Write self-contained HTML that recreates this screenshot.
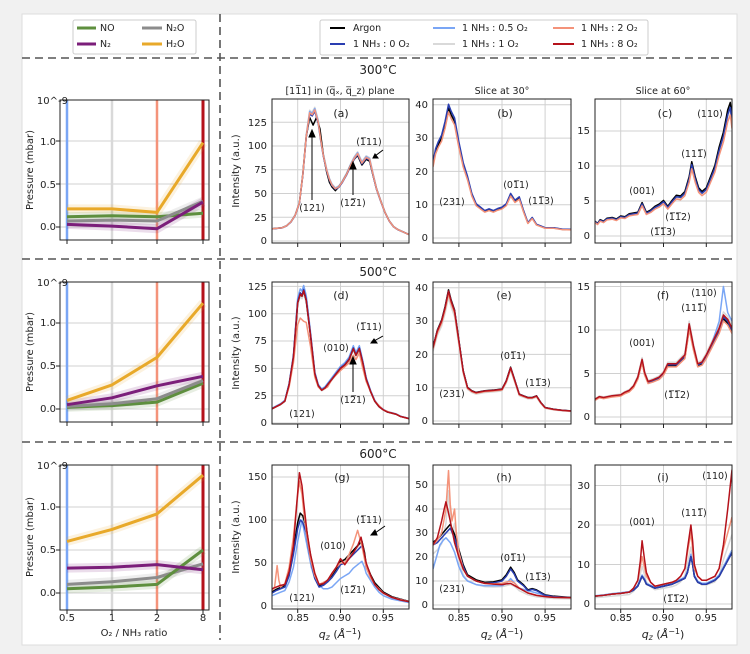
<!DOCTYPE html>
<html><head><meta charset="utf-8"><style>
html,body{margin:0;padding:0;background:#f1f1f1;}
svg{display:block;font-family:"DejaVu Sans","Liberation Sans",sans-serif;}
.t{font-size:10px;fill:#222;}
.s{font-size:9.5px;fill:#222;}
.gr line{stroke:#d0d0d0;stroke-width:1;}
.tk line{stroke:#222;stroke-width:1;}
polyline[id]{fill:none;stroke-width:1.5;stroke-linejoin:round;vector-effect:non-scaling-stroke;}
.c use{fill:none;}
.lp polyline{fill:none;stroke-linejoin:round;}
</style></head><body>
<svg width="750" height="654" viewBox="0 0 750 654" xmlns="http://www.w3.org/2000/svg">
<defs>
<polyline id="A" fill="none" stroke-width="1.5" vector-effect="non-scaling-stroke" points=".80,12 .81,13 .82,14 .825,16 .83,20 .835,27 .84,40 .844,70 .848,110 .852,135 .855,133 .858,138 .862,125 .865,106 .868,90 .872,74 .875,65 .878,59 .882,55 .886,57 .89,62 .895,70 .9,80 .904,87 .908,92 .913,82 .918,88 .922,86 .926,70 .93,55 .935,42 .94,30 .945,21 .95,15 .955,12 .96,10 .965,8 .97,6 .975,5 .98,3"/>
<polyline id="Ak" fill="none" stroke-width="1.5" vector-effect="non-scaling-stroke" points=".80,12 .81,13 .82,14 .825,16 .83,20 .835,27 .84,40 .844,70 .848,110 .852,130 .856,122 .86,130 .864,118 .868,90 .872,72 .875,62 .878,57 .882,53 .886,57 .89,62 .895,70 .9,80 .904,86 .908,90 .913,80 .918,86 .922,84 .926,69 .93,55 .935,42 .94,30 .945,21 .95,15 .955,12 .96,10 .965,8 .97,6 .975,5 .98,3"/>
<polyline id="B" fill="none" stroke-width="1.5" vector-effect="non-scaling-stroke" points=".82,22 .823,26 .826,28 .83,30 .834,34 .838,39 .841,37 .845,35 .85,28 .855,22 .86,18 .865,13 .87,10 .875,9 .88,8 .885,8.5 .89,8 .895,8.6 .9,9 .905,10 .91,13 .915,11 .92,12 .925,8 .93,4.5 .935,6 .94,4 .945,3.5 .95,3 .96,3 .97,2.6 .98,2.5"/>
<polyline id="Cc" fill="none" stroke-width="1.5" vector-effect="non-scaling-stroke" points=".82,2 .823,1.7 .826,2.2 .83,2 .834,2.4 .84,2.5 .845,2.3 .85,2.7 .855,2.6 .86,3 .865,3.1 .87,3.2 .875,4.5 .88,3.2 .885,3.5 .89,4 .895,4.3 .9,4.8 .905,4 .91,4.8 .915,5.5 .92,5.4 .925,6 .93,8 .933,10 .937,8 .941,6.5 .945,6 .95,6.5 .955,8 .96,9.5 .965,12 .97,14 .975,17 .978,18 .98,16"/>
<polyline id="D" fill="none" stroke-width="1.5" vector-effect="non-scaling-stroke" points=".82,13 .825,15 .83,17 .835,20 .84,35 .845,60 .85,110 .853,118 .855,116 .857,121 .86,112 .865,80 .87,45 .874,34 .878,30 .882,32 .885,35 .89,40 .895,45 .9,50 .905,53 .91,58 .915,68 .918,62 .922,68 .926,55 .93,40 .935,29 .94,20 .945,15 .95,12 .955,10 .96,9 .965,8 .97,6 .975,5 .98,4"/>
<polyline id="Ds" fill="none" stroke-width="1.5" vector-effect="non-scaling-stroke" points=".82,13 .825,15 .83,17 .835,20 .84,33 .845,55 .85,90 .853,96 .857,93 .86,92 .865,70 .87,42 .874,33 .878,30 .885,33 .89,40 .9,48 .91,55 .915,62 .918,58 .922,64 .926,50 .93,38 .94,20 .95,12 .96,9 .965,8 .97,6 .98,4"/>
<polyline id="E" fill="none" stroke-width="1.5" vector-effect="non-scaling-stroke" points=".82,22 .825,27 .83,30 .834,34 .838,39 .841,36 .845,33 .85,24 .855,15 .86,10 .865,9 .87,8.5 .88,9 .89,9.2 .9,9.5 .905,12 .91,16 .915,12 .92,8 .925,7.5 .93,7 .935,7 .94,7.5 .945,5.5 .95,4 .96,3.5 .97,3.2 .98,3"/>
<polyline id="F" fill="none" stroke-width="1.5" vector-effect="non-scaling-stroke" points=".82,2 .825,2.3 .83,2.2 .84,2.4 .85,2.5 .855,2.8 .86,3 .865,3.5 .87,4.5 .875,6.5 .878,5 .882,4 .888,4.2 .895,4.5 .9,5 .905,6 .91,6 .915,6 .92,6.5 .925,7 .928,9 .93,10.5 .935,8 .94,6 .945,6.2 .95,7 .955,8 .96,9 .965,10 .97,11.5 .975,11 .98,10"/>
<polyline id="Flb" fill="none" stroke-width="1.5" vector-effect="non-scaling-stroke" points=".82,2 .825,2.3 .83,2.2 .84,2.4 .85,2.5 .855,2.8 .86,3 .865,3.5 .87,4.5 .875,6.5 .878,5 .882,4 .888,4.2 .895,4.5 .9,5 .905,6 .91,6 .915,6 .92,6.5 .925,7 .928,9 .93,10.5 .935,8 .94,6 .945,6.2 .95,7 .955,8 .96,9.5 .965,11 .97,15 .975,12 .98,11"/>
<polyline id="Gr" fill="none" stroke-width="1.5" vector-effect="non-scaling-stroke" points=".82,20 .825,22 .83,24 .835,25 .84,40 .845,70 .849,120 .852,155 .855,140 .857,120 .861,85 .865,60 .87,38 .875,25 .88,26 .885,30 .89,38 .895,45 .9,55 .905,48 .91,55 .915,62 .92,70 .924,80 .927,65 .93,50 .935,36 .94,25 .945,19 .95,15 .96,10 .97,7 .98,5"/>
<polyline id="Gs" fill="none" stroke-width="1.5" vector-effect="non-scaling-stroke" points=".82,18 .823,22 .826,47 .828,30 .83,22 .835,26 .84,45 .845,80 .849,120 .852,145 .855,130 .857,110 .861,80 .865,55 .87,35 .875,25 .885,30 .895,45 .9,50 .905,50 .91,60 .915,72 .92,88 .925,70 .93,45 .935,33 .94,25 .95,15 .96,10 .98,5"/>
<polyline id="Gb" fill="none" stroke-width="1.5" vector-effect="non-scaling-stroke" points=".82,15 .825,18 .83,20 .835,22 .84,35 .845,60 .85,90 .853,100 .856,97 .86,85 .863,65 .867,45 .87,32 .875,22 .88,24 .885,28 .89,33 .895,40 .9,48 .905,50 .91,55 .915,60 .92,65 .925,70 .928,58 .93,45 .935,34 .94,25 .95,15 .96,10 .98,5"/>
<polyline id="Glb" fill="none" stroke-width="1.5" vector-effect="non-scaling-stroke" points=".82,12 .825,14 .83,16 .835,18 .84,28 .845,45 .85,75 .855,100 .858,85 .862,65 .866,45 .87,32 .875,24 .88,20 .885,20 .89,22 .895,27 .9,32 .905,35 .91,38 .915,44 .92,48 .925,52 .928,45 .93,38 .935,30 .94,22 .945,16 .95,12 .96,8 .98,4"/>
<polyline id="Hr" fill="none" stroke-width="1.5" vector-effect="non-scaling-stroke" points=".82,25 .825,28 .83,35 .833,40 .835,43 .837,40 .84,35 .845,26 .85,20 .855,15 .86,12 .87,10 .88,9 .89,8.7 .9,8.5 .905,8.8 .91,9 .915,8 .92,7 .93,5 .94,4 .95,3.5 .96,3.2 .98,3"/>
<polyline id="Hs" fill="none" stroke-width="1.5" vector-effect="non-scaling-stroke" points=".82,25 .825,27 .83,30 .835,40 .838,56 .84,42 .842,35 .845,40 .847,30 .85,22 .855,15 .86,12 .87,10 .88,9 .89,8.8 .9,9 .905,9.5 .91,10 .915,9 .92,7 .93,5 .94,4 .95,3.5 .96,3.2 .98,3"/>
<polyline id="Hb" fill="none" stroke-width="1.5" vector-effect="non-scaling-stroke" points=".82,25 .825,26 .83,28 .835,30 .84,32 .845,28 .85,22 .855,16 .86,12 .87,10 .88,9 .89,9.2 .9,10 .905,12 .91,15 .914,13 .918,10 .925,8 .93,6 .935,6.5 .94,6 .945,5 .95,4 .96,3.5 .98,3"/>
<polyline id="Hlb" fill="none" stroke-width="1.5" vector-effect="non-scaling-stroke" points=".82,15 .824,20 .828,25 .832,27 .835,28 .84,26 .845,22 .85,16 .855,12 .86,10 .87,8.5 .88,8 .89,8 .9,8 .905,9 .91,11 .915,9 .92,7 .93,6 .94,5 .95,4 .96,3.5 .98,3"/>
<polyline id="Ir" fill="none" stroke-width="1.5" vector-effect="non-scaling-stroke" points=".82,2 .83,2.2 .84,2.5 .85,2.7 .86,3 .865,4 .87,6 .873,11 .875,16 .878,11 .88,8 .885,5.5 .89,4.5 .9,5 .91,5.5 .915,6 .92,7 .925,9 .928,14 .932,20 .934,16 .936,10 .94,7 .945,6 .95,6 .955,6.5 .96,7 .965,9 .97,15 .975,24 .98,34"/>
<polyline id="Ib" fill="none" stroke-width="1.5" vector-effect="non-scaling-stroke" points=".82,2 .83,2.2 .84,2.5 .85,2.7 .86,3 .865,3.5 .87,4.5 .875,7 .878,6 .88,5 .885,4.5 .89,4 .9,4.5 .91,5 .915,5.5 .92,6 .925,6.5 .928,8 .932,12 .934,10 .936,7 .94,5.5 .945,5 .95,5 .955,5.5 .96,6 .965,7 .97,9 .975,11 .98,13"/>
<polyline id="Is" fill="none" stroke-width="1.5" vector-effect="non-scaling-stroke" points=".82,2 .83,2.2 .84,2.5 .85,2.7 .86,3 .865,4 .87,6 .875,12 .878,9 .88,7 .885,5.5 .89,4.5 .9,5 .91,5.5 .915,6 .92,7 .925,9 .928,13 .932,18 .934,14 .936,9 .94,7 .945,6 .95,6 .955,6.5 .96,7 .965,9 .97,14 .975,18 .98,22"/>
<clipPath id="ca"><rect x="272" y="99" width="137" height="144"/></clipPath>
<clipPath id="cb"><rect x="433" y="99" width="138" height="144"/></clipPath>
<clipPath id="cc"><rect x="595" y="99" width="137" height="144"/></clipPath>
<clipPath id="cd"><rect x="272" y="282" width="137" height="142"/></clipPath>
<clipPath id="ce"><rect x="433" y="282" width="138" height="142"/></clipPath>
<clipPath id="cf"><rect x="595" y="282" width="137" height="142"/></clipPath>
<clipPath id="cg"><rect x="272" y="465" width="137" height="144"/></clipPath>
<clipPath id="ch"><rect x="433" y="465" width="138" height="144"/></clipPath>
<clipPath id="ci"><rect x="595" y="465" width="137" height="144"/></clipPath>
</defs>
<rect x="22" y="14" width="715" height="631" fill="#fff" stroke="#ddd"/>

<g class="gr">
<line x1="60" x2="209" y1="227" y2="227"/><line x1="60" x2="209" y1="184" y2="184"/><line x1="60" x2="209" y1="141" y2="141"/>
<line x1="60" x2="209" y1="409" y2="409"/><line x1="60" x2="209" y1="366" y2="366"/><line x1="60" x2="209" y1="323" y2="323"/>
<line x1="60" x2="209" y1="593" y2="593"/><line x1="60" x2="209" y1="550" y2="550"/><line x1="60" x2="209" y1="507" y2="507"/>
</g>
<g stroke-width="2.5">
<line x1="112" x2="112" y1="100" y2="240" stroke="#d9d9d9"/><line x1="67" x2="67" y1="100" y2="240" stroke="#7aa6f5"/><line x1="157" x2="157" y1="100" y2="240" stroke="#f4937a"/><line x1="203" x2="203" y1="100" y2="240" stroke="#b5121b" stroke-width="3"/>
<line x1="112" x2="112" y1="282" y2="422" stroke="#d9d9d9"/><line x1="67" x2="67" y1="282" y2="422" stroke="#7aa6f5"/><line x1="157" x2="157" y1="282" y2="422" stroke="#f4937a"/><line x1="203" x2="203" y1="282" y2="422" stroke="#b5121b" stroke-width="3"/>
<line x1="112" x2="112" y1="465" y2="610" stroke="#d9d9d9"/><line x1="67" x2="67" y1="465" y2="610" stroke="#7aa6f5"/><line x1="157" x2="157" y1="465" y2="610" stroke="#f4937a"/><line x1="203" x2="203" y1="465" y2="610" stroke="#b5121b" stroke-width="3"/>
</g>
<g class="lp">
<g stroke-width="9" stroke-opacity="0.15">
<polyline stroke="#5e8f3e" points="67,216.7 112,215.8 157,216.7 203,213.2"/><polyline stroke="#8c8c8c" points="67,221 112,220.1 157,221 203,201.2"/><polyline stroke="#7b1e7a" points="67,224.4 112,226.1 157,228.7 203,202.1"/><polyline stroke="#e8a92a" points="67,208.9 112,208.9 157,212.4 203,142.7"/>
<polyline stroke="#5e8f3e" points="67,407.3 112,405.6 157,402.1 203,383.2"/><polyline stroke="#8c8c8c" points="67,406.4 112,403.8 157,398.7 203,380.6"/><polyline stroke="#7b1e7a" points="67,404.7 112,397.8 157,385.8 203,376.3"/><polyline stroke="#e8a92a" points="67,400.4 112,384.9 157,357.4 203,303.2"/>
<polyline stroke="#8c8c8c" points="67,584.4 112,581.8 157,577.5 203,563.8"/><polyline stroke="#5e8f3e" points="67,588.7 112,587 157,584.4 203,550"/><polyline stroke="#7b1e7a" points="67,568.1 112,567.2 157,564.6 203,569.8"/><polyline stroke="#e8a92a" points="67,541.4 112,529.4 157,513.9 203,475.2"/>
</g>
<g stroke-width="3">
<polyline stroke="#5e8f3e" points="67,216.7 112,215.8 157,216.7 203,213.2"/><polyline stroke="#8c8c8c" points="67,221 112,220.1 157,221 203,201.2"/><polyline stroke="#7b1e7a" points="67,224.4 112,226.1 157,228.7 203,202.1"/><polyline stroke="#e8a92a" points="67,208.9 112,208.9 157,212.4 203,142.7"/>
<polyline stroke="#5e8f3e" points="67,407.3 112,405.6 157,402.1 203,383.2"/><polyline stroke="#8c8c8c" points="67,406.4 112,403.8 157,398.7 203,380.6"/><polyline stroke="#7b1e7a" points="67,404.7 112,397.8 157,385.8 203,376.3"/><polyline stroke="#e8a92a" points="67,400.4 112,384.9 157,357.4 203,303.2"/>
<polyline stroke="#8c8c8c" points="67,584.4 112,581.8 157,577.5 203,563.8"/><polyline stroke="#5e8f3e" points="67,588.7 112,587 157,584.4 203,550"/><polyline stroke="#7b1e7a" points="67,568.1 112,567.2 157,564.6 203,569.8"/><polyline stroke="#e8a92a" points="67,541.4 112,529.4 157,513.9 203,475.2"/>
</g>
</g>

<g class="gr">
<line x1="297.7" x2="297.7" y1="99" y2="243"/><line x1="340.5" x2="340.5" y1="99" y2="243"/><line x1="383.3" x2="383.3" y1="99" y2="243"/>
<line x1="458.9" x2="458.9" y1="99" y2="243"/><line x1="502" x2="502" y1="99" y2="243"/><line x1="545.1" x2="545.1" y1="99" y2="243"/>
<line x1="620.7" x2="620.7" y1="99" y2="243"/><line x1="663.5" x2="663.5" y1="99" y2="243"/><line x1="706.3" x2="706.3" y1="99" y2="243"/>
<line x1="297.7" x2="297.7" y1="282" y2="424"/><line x1="340.5" x2="340.5" y1="282" y2="424"/><line x1="383.3" x2="383.3" y1="282" y2="424"/>
<line x1="458.9" x2="458.9" y1="282" y2="424"/><line x1="502" x2="502" y1="282" y2="424"/><line x1="545.1" x2="545.1" y1="282" y2="424"/>
<line x1="620.7" x2="620.7" y1="282" y2="424"/><line x1="663.5" x2="663.5" y1="282" y2="424"/><line x1="706.3" x2="706.3" y1="282" y2="424"/>
<line x1="297.7" x2="297.7" y1="465" y2="609"/><line x1="340.5" x2="340.5" y1="465" y2="609"/><line x1="383.3" x2="383.3" y1="465" y2="609"/>
<line x1="458.9" x2="458.9" y1="465" y2="609"/><line x1="502" x2="502" y1="465" y2="609"/><line x1="545.1" x2="545.1" y1="465" y2="609"/>
<line x1="620.7" x2="620.7" y1="465" y2="609"/><line x1="663.5" x2="663.5" y1="465" y2="609"/><line x1="706.3" x2="706.3" y1="465" y2="609"/>
<line x1="272" x2="409" y1="241" y2="241"/><line x1="272" x2="409" y1="217.3" y2="217.3"/><line x1="272" x2="409" y1="193.5" y2="193.5"/><line x1="272" x2="409" y1="169.8" y2="169.8"/><line x1="272" x2="409" y1="146" y2="146"/><line x1="272" x2="409" y1="122.3" y2="122.3"/>
<line x1="433" x2="571" y1="238" y2="238"/><line x1="433" x2="571" y1="204.7" y2="204.7"/><line x1="433" x2="571" y1="171.4" y2="171.4"/><line x1="433" x2="571" y1="138.1" y2="138.1"/><line x1="433" x2="571" y1="104.8" y2="104.8"/>
<line x1="595" x2="732" y1="236" y2="236"/><line x1="595" x2="732" y1="201" y2="201"/><line x1="595" x2="732" y1="166" y2="166"/><line x1="595" x2="732" y1="131" y2="131"/>
<line x1="272" x2="409" y1="423" y2="423"/><line x1="272" x2="409" y1="395.7" y2="395.7"/><line x1="272" x2="409" y1="368.4" y2="368.4"/><line x1="272" x2="409" y1="341" y2="341"/><line x1="272" x2="409" y1="313.7" y2="313.7"/><line x1="272" x2="409" y1="286.4" y2="286.4"/>
<line x1="433" x2="571" y1="421" y2="421"/><line x1="433" x2="571" y1="387.7" y2="387.7"/><line x1="433" x2="571" y1="354.4" y2="354.4"/><line x1="433" x2="571" y1="321.1" y2="321.1"/><line x1="433" x2="571" y1="287.8" y2="287.8"/>
<line x1="595" x2="732" y1="417" y2="417"/><line x1="595" x2="732" y1="373.5" y2="373.5"/><line x1="595" x2="732" y1="330" y2="330"/><line x1="595" x2="732" y1="286.5" y2="286.5"/>
<line x1="272" x2="409" y1="606" y2="606"/><line x1="272" x2="409" y1="563" y2="563"/><line x1="272" x2="409" y1="520" y2="520"/><line x1="272" x2="409" y1="477" y2="477"/>
<line x1="433" x2="571" y1="605" y2="605"/><line x1="433" x2="571" y1="581" y2="581"/><line x1="433" x2="571" y1="557" y2="557"/><line x1="433" x2="571" y1="533" y2="533"/><line x1="433" x2="571" y1="509" y2="509"/><line x1="433" x2="571" y1="485" y2="485"/>
<line x1="595" x2="732" y1="604" y2="604"/><line x1="595" x2="732" y1="564.5" y2="564.5"/><line x1="595" x2="732" y1="525" y2="525"/><line x1="595" x2="732" y1="485.5" y2="485.5"/>
</g>

<g class="c" fill="none">
<g clip-path="url(#ca)"><g transform="translate(272,241) scale(856.25,-0.95) translate(-0.808,0)">
<use href="#A" stroke="#d9d9d9" transform="scale(1,1.02)"/><use href="#A" stroke="#7aa6f5" transform="scale(1,1.01)"/><use href="#Ak" stroke="#000"/><use href="#A" stroke="#2a3eb1" transform="scale(1,0.99)"/><use href="#A" stroke="#f4937a"/>
</g></g>
<g clip-path="url(#cb)"><g transform="translate(433,238) scale(862.5,-3.33) translate(-0.82,0)">
<use href="#B" stroke="#d9d9d9"/><use href="#B" stroke="#7aa6f5" transform="scale(1,1.01)"/><use href="#B" stroke="#000"/><use href="#B" stroke="#2a3eb1" transform="scale(1,1.03)"/><use href="#B" stroke="#f4937a" transform="scale(1,0.97)"/>
</g></g>
<g clip-path="url(#cc)"><g transform="translate(595,236) scale(856.25,-7) translate(-0.82,0)">
<use href="#Cc" stroke="#d9d9d9"/><use href="#Cc" stroke="#7aa6f5" transform="scale(1,1.03)"/><use href="#Cc" stroke="#000" transform="scale(1,1.06)"/><use href="#Cc" stroke="#2a3eb1" transform="scale(1,1.02)"/><use href="#Cc" stroke="#f4937a" transform="scale(1,0.96)"/>
</g></g>
<g clip-path="url(#cd)"><g transform="translate(272,423) scale(856.25,-1.093) translate(-0.82,0)">
<use href="#D" stroke="#d9d9d9" transform="scale(1,0.98)"/><use href="#D" stroke="#7aa6f5" transform="scale(1,1.04)"/><use href="#D" stroke="#000"/><use href="#D" stroke="#2a3eb1" transform="scale(1,1.01)"/><use href="#Ds" stroke="#f4937a"/><use href="#D" stroke="#b5121b"/>
</g></g>
<g clip-path="url(#ce)"><g transform="translate(433,421) scale(862.5,-3.33) translate(-0.82,0)">
<use href="#E" stroke="#d9d9d9" transform="scale(1,0.95)"/><use href="#E" stroke="#7aa6f5"/><use href="#E" stroke="#000" transform="scale(1,1.01)"/><use href="#E" stroke="#2a3eb1"/><use href="#E" stroke="#f4937a" transform="scale(1,0.98)"/><use href="#E" stroke="#b5121b"/>
</g></g>
<g clip-path="url(#cf)"><g transform="translate(595,417) scale(856.25,-8.7) translate(-0.82,0)">
<use href="#F" stroke="#d9d9d9" transform="scale(1,1.05)"/><use href="#Flb" stroke="#7aa6f5"/><use href="#F" stroke="#000" transform="scale(1,0.98)"/><use href="#F" stroke="#2a3eb1"/><use href="#F" stroke="#f4937a" transform="scale(1,0.96)"/><use href="#F" stroke="#b5121b" transform="scale(1,1.02)"/>
</g></g>
<g clip-path="url(#cg)"><g transform="translate(272,606) scale(856.25,-0.86) translate(-0.82,0)">
<use href="#Gb" stroke="#d9d9d9" transform="scale(1,1.05)"/><use href="#Glb" stroke="#7aa6f5"/><use href="#Gb" stroke="#000" transform="scale(1,1.08)"/><use href="#Gb" stroke="#2a3eb1"/><use href="#Gs" stroke="#f4937a"/><use href="#Gr" stroke="#b5121b"/>
</g></g>
<g clip-path="url(#ch)"><g transform="translate(433,605) scale(862.5,-2.4) translate(-0.82,0)">
<use href="#Hs" stroke="#d9d9d9" transform="scale(1,0.85)"/><use href="#Hlb" stroke="#7aa6f5"/><use href="#Hb" stroke="#000" transform="scale(1,1.05)"/><use href="#Hb" stroke="#2a3eb1"/><use href="#Hs" stroke="#f4937a"/><use href="#Hr" stroke="#b5121b"/>
</g></g>
<g clip-path="url(#ci)"><g transform="translate(595,604) scale(856.25,-3.95) translate(-0.82,0)">
<use href="#Is" stroke="#d9d9d9" transform="scale(1,0.8)"/><use href="#Ib" stroke="#7aa6f5" transform="scale(1,1.05)"/><use href="#Ib" stroke="#000"/><use href="#Ib" stroke="#2a3eb1"/><use href="#Is" stroke="#f4937a"/><use href="#Ir" stroke="#b5121b"/>
</g></g>
</g>

<g fill="none" stroke="#222" stroke-width="1">
<rect x="60" y="100" width="149" height="140"/><rect x="60" y="282" width="149" height="140"/><rect x="60" y="465" width="149" height="145"/>
<rect x="272" y="99" width="137" height="144"/><rect x="433" y="99" width="138" height="144"/><rect x="595" y="99" width="137" height="144"/>
<rect x="272" y="282" width="137" height="142"/><rect x="433" y="282" width="138" height="142"/><rect x="595" y="282" width="137" height="142"/>
<rect x="272" y="465" width="137" height="144"/><rect x="433" y="465" width="138" height="144"/><rect x="595" y="465" width="137" height="144"/>
</g>
<g class="tk">
<line x1="67" x2="67" y1="240" y2="244"/><line x1="112" x2="112" y1="240" y2="244"/><line x1="157" x2="157" y1="240" y2="244"/><line x1="203" x2="203" y1="240" y2="244"/>
<line x1="67" x2="67" y1="422" y2="426"/><line x1="112" x2="112" y1="422" y2="426"/><line x1="157" x2="157" y1="422" y2="426"/><line x1="203" x2="203" y1="422" y2="426"/>
<line x1="67" x2="67" y1="610" y2="614"/><line x1="112" x2="112" y1="610" y2="614"/><line x1="157" x2="157" y1="610" y2="614"/><line x1="203" x2="203" y1="610" y2="614"/>
<line x1="56" x2="60" y1="227" y2="227"/><line x1="56" x2="60" y1="184" y2="184"/><line x1="56" x2="60" y1="141" y2="141"/>
<line x1="56" x2="60" y1="409" y2="409"/><line x1="56" x2="60" y1="366" y2="366"/><line x1="56" x2="60" y1="323" y2="323"/>
<line x1="56" x2="60" y1="593" y2="593"/><line x1="56" x2="60" y1="550" y2="550"/><line x1="56" x2="60" y1="507" y2="507"/>
<line x1="297.7" x2="297.7" y1="243" y2="247"/><line x1="340.5" x2="340.5" y1="243" y2="247"/><line x1="383.3" x2="383.3" y1="243" y2="247"/>
<line x1="458.9" x2="458.9" y1="243" y2="247"/><line x1="502" x2="502" y1="243" y2="247"/><line x1="545.1" x2="545.1" y1="243" y2="247"/>
<line x1="620.7" x2="620.7" y1="243" y2="247"/><line x1="663.5" x2="663.5" y1="243" y2="247"/><line x1="706.3" x2="706.3" y1="243" y2="247"/>
<line x1="297.7" x2="297.7" y1="424" y2="428"/><line x1="340.5" x2="340.5" y1="424" y2="428"/><line x1="383.3" x2="383.3" y1="424" y2="428"/>
<line x1="458.9" x2="458.9" y1="424" y2="428"/><line x1="502" x2="502" y1="424" y2="428"/><line x1="545.1" x2="545.1" y1="424" y2="428"/>
<line x1="620.7" x2="620.7" y1="424" y2="428"/><line x1="663.5" x2="663.5" y1="424" y2="428"/><line x1="706.3" x2="706.3" y1="424" y2="428"/>
<line x1="297.7" x2="297.7" y1="609" y2="613"/><line x1="340.5" x2="340.5" y1="609" y2="613"/><line x1="383.3" x2="383.3" y1="609" y2="613"/>
<line x1="458.9" x2="458.9" y1="609" y2="613"/><line x1="502" x2="502" y1="609" y2="613"/><line x1="545.1" x2="545.1" y1="609" y2="613"/>
<line x1="620.7" x2="620.7" y1="609" y2="613"/><line x1="663.5" x2="663.5" y1="609" y2="613"/><line x1="706.3" x2="706.3" y1="609" y2="613"/>
</g>

<g stroke="#555" stroke-width="1.6" stroke-dasharray="8,5" fill="none">
<line x1="22" y1="58" x2="737" y2="58"/><line x1="22" y1="259" x2="737" y2="259"/><line x1="22" y1="442" x2="737" y2="442"/>
<line x1="220" y1="14" x2="220" y2="640"/>
</g>
<rect x="73" y="20" width="123" height="34" fill="#fff" stroke="#ccc" rx="2"/>
<line x1="77" y1="28" x2="96" y2="28" stroke="#5e8f3e" stroke-width="3"/><text class="s" x="100" y="31">NO</text>
<line x1="77" y1="44" x2="96" y2="44" stroke="#7b1e7a" stroke-width="3"/><text class="s" x="100" y="47">N₂</text>
<line x1="142" y1="28" x2="162" y2="28" stroke="#8c8c8c" stroke-width="3"/><text class="s" x="166" y="31">N₂O</text>
<line x1="142" y1="44" x2="162" y2="44" stroke="#e8a92a" stroke-width="3"/><text class="s" x="166" y="47">H₂O</text>
<rect x="320" y="20" width="328" height="35" fill="#fff" stroke="#ccc" rx="2"/>
<line x1="330" y1="28" x2="345" y2="28" stroke="#000" stroke-width="2"/><text class="s" x="353" y="31">Argon</text>
<line x1="330" y1="44" x2="345" y2="44" stroke="#2a3eb1" stroke-width="2"/><text class="s" x="353" y="47">1 NH₃ : 0 O₂</text>
<line x1="433" y1="28" x2="455" y2="28" stroke="#7aa6f5" stroke-width="2"/><text class="s" x="462" y="31">1 NH₃ : 0.5 O₂</text>
<line x1="433" y1="44" x2="455" y2="44" stroke="#d9d9d9" stroke-width="2"/><text class="s" x="462" y="47">1 NH₃ : 1 O₂</text>
<line x1="553" y1="28" x2="574" y2="28" stroke="#f4937a" stroke-width="2"/><text class="s" x="581" y="31">1 NH₃ : 2 O₂</text>
<line x1="553" y1="44" x2="574" y2="44" stroke="#b5121b" stroke-width="2"/><text class="s" x="581" y="47">1 NH₃ : 8 O₂</text>
<text x="378" y="74" font-size="12" text-anchor="middle" fill="#222">300°C</text>
<text x="378" y="276" font-size="12" text-anchor="middle" fill="#222">500°C</text>
<text x="378" y="458" font-size="12" text-anchor="middle" fill="#222">600°C</text>
<text class="s" x="340" y="94" text-anchor="middle">[11̅1] in (q̅ₓ, q̅_z) plane</text>
<text class="s" x="502" y="94" text-anchor="middle">Slice at 30°</text>
<text class="s" x="663" y="94" text-anchor="middle">Slice at 60°</text>
<g class="t" text-anchor="end">
<text x="56" y="230">0.0</text><text x="56" y="188">0.5</text><text x="56" y="145">1.0</text><text x="68" y="104">10^-9</text>
<text x="56" y="412">0.0</text><text x="56" y="369">0.5</text><text x="56" y="326">1.0</text><text x="68" y="286">10^-9</text>
<text x="56" y="596">0.0</text><text x="56" y="553">0.5</text><text x="56" y="510">1.0</text><text x="68" y="469">10^-9</text>
</g>
<g class="t" text-anchor="middle" font-size="11">
<text transform="translate(33,170) rotate(-90)">Pressure (mbar)</text>
<text transform="translate(33,352) rotate(-90)">Pressure (mbar)</text>
<text transform="translate(33,537) rotate(-90)">Pressure (mbar)</text>
<text transform="translate(239,171) rotate(-90)">Intensity  (a.u.)</text>
<text transform="translate(239,353) rotate(-90)">Intensity  (a.u.)</text>
<text transform="translate(239,537) rotate(-90)">Intensity  (a.u.)</text>
</g>
<g class="t" text-anchor="middle">
<text x="67" y="621">0.5</text><text x="112" y="621">1</text><text x="157" y="621">2</text><text x="203" y="621">8</text>
<text x="134" y="636">O₂ / NH₃ ratio</text>
<text x="298" y="621">0.85</text><text x="340" y="621">0.90</text><text x="383" y="621">0.95</text>
<text x="459" y="621">0.85</text><text x="502" y="621">0.90</text><text x="545" y="621">0.95</text>
<text x="621" y="621">0.85</text><text x="663" y="621">0.90</text><text x="706" y="621">0.95</text>
<text x="340" y="638" font-size="11"><tspan font-style="italic">q</tspan><tspan font-size="8" dy="2" font-style="italic">z</tspan><tspan dy="-2"> (</tspan><tspan font-style="italic">Å</tspan><tspan font-size="8" dy="-4">−1</tspan><tspan dy="4">)</tspan></text>
<text x="502" y="638" font-size="11"><tspan font-style="italic">q</tspan><tspan font-size="8" dy="2" font-style="italic">z</tspan><tspan dy="-2"> (</tspan><tspan font-style="italic">Å</tspan><tspan font-size="8" dy="-4">−1</tspan><tspan dy="4">)</tspan></text>
<text x="663" y="638" font-size="11"><tspan font-style="italic">q</tspan><tspan font-size="8" dy="2" font-style="italic">z</tspan><tspan dy="-2"> (</tspan><tspan font-style="italic">Å</tspan><tspan font-size="8" dy="-4">−1</tspan><tspan dy="4">)</tspan></text>
</g>
<g class="t" text-anchor="end">
<text x="267" y="244">0</text><text x="267" y="221">25</text><text x="267" y="197">50</text><text x="267" y="173">75</text><text x="267" y="149">100</text><text x="267" y="126">125</text>
<text x="428" y="241">0</text><text x="428" y="208">10</text><text x="428" y="175">20</text><text x="428" y="141">30</text><text x="428" y="108">40</text>
<text x="590" y="239">0</text><text x="590" y="204">5</text><text x="590" y="169">10</text><text x="590" y="134">15</text>
<text x="267" y="426">0</text><text x="267" y="399">25</text><text x="267" y="372">50</text><text x="267" y="344">75</text><text x="267" y="317">100</text><text x="267" y="290">125</text>
<text x="428" y="424">0</text><text x="428" y="391">10</text><text x="428" y="358">20</text><text x="428" y="324">30</text><text x="428" y="291">40</text>
<text x="590" y="420">0</text><text x="590" y="377">5</text><text x="590" y="333">10</text><text x="590" y="290">15</text>
<text x="267" y="609">0</text><text x="267" y="566">50</text><text x="267" y="523">100</text><text x="267" y="480">150</text>
<text x="428" y="608">0</text><text x="428" y="584">10</text><text x="428" y="560">20</text><text x="428" y="536">30</text><text x="428" y="512">40</text><text x="428" y="488">50</text>
<text x="590" y="607">0</text><text x="590" y="568">10</text><text x="590" y="528">20</text><text x="590" y="489">30</text>
</g>
<g class="s" text-anchor="middle">
<text x="341" y="117" font-size="11">(a)</text><text x="505" y="117" font-size="11">(b)</text><text x="665" y="117" font-size="11">(c)</text>
<text x="312" y="211">(121)</text><text x="353" y="206">(12̅1)</text><text x="369" y="145">(1̅11)</text>
<text x="452" y="205">(231)</text><text x="516" y="188">(01̅1)</text><text x="541" y="204">(11̅3)</text>
<text x="710" y="117">(110)</text><text x="694" y="157">(111̅)</text><text x="642" y="194">(001)</text><text x="678" y="220">(1̅1̅2)</text><text x="663" y="235">(1̅1̅3)</text>
<text x="341" y="299" font-size="11">(d)</text><text x="504" y="299" font-size="11">(e)</text><text x="663" y="299" font-size="11">(f)</text>
<text x="302" y="417">(121)</text><text x="336" y="351">(010)</text><text x="369" y="330">(1̅11)</text><text x="353" y="403">(12̅1)</text>
<text x="452" y="397">(231)</text><text x="513" y="359">(01̅1)</text><text x="538" y="386">(11̅3)</text>
<text x="704" y="296">(110)</text><text x="694" y="311">(111̅)</text><text x="642" y="346">(001)</text><text x="677" y="398">(1̅1̅2)</text>
<text x="342" y="481" font-size="11">(g)</text><text x="504" y="481" font-size="11">(h)</text><text x="663" y="481" font-size="11">(i)</text>
<text x="302" y="601">(121)</text><text x="333" y="549">(010)</text><text x="369" y="523">(1̅11)</text><text x="353" y="593">(12̅1)</text>
<text x="452" y="592">(231)</text><text x="513" y="561">(01̅1)</text><text x="538" y="580">(11̅3)</text>
<text x="715" y="479">(110)</text><text x="694" y="516">(111̅)</text><text x="642" y="525">(001)</text><text x="676" y="602">(1̅1̅2)</text>
</g>
<g stroke="#000" stroke-width="1" fill="#000">
<line x1="312" y1="200" x2="312" y2="135"/><polygon points="309,137 315,137 312,130"/>
<line x1="353" y1="195" x2="353" y2="167"/><polygon points="350,169 356,169 353,162"/>
<line x1="383" y1="150" x2="375" y2="156"/><polygon points="373,158 378,158 375,154"/>
<line x1="353" y1="392" x2="353" y2="362"/><polygon points="350,364 356,364 353,357"/>
<line x1="383" y1="336" x2="374" y2="341"/><polygon points="371,343 377,343 374,339"/>
<line x1="385" y1="526" x2="375" y2="533"/><polygon points="371,535 377,535 375,530"/>
</g>
</svg>
</body></html>
